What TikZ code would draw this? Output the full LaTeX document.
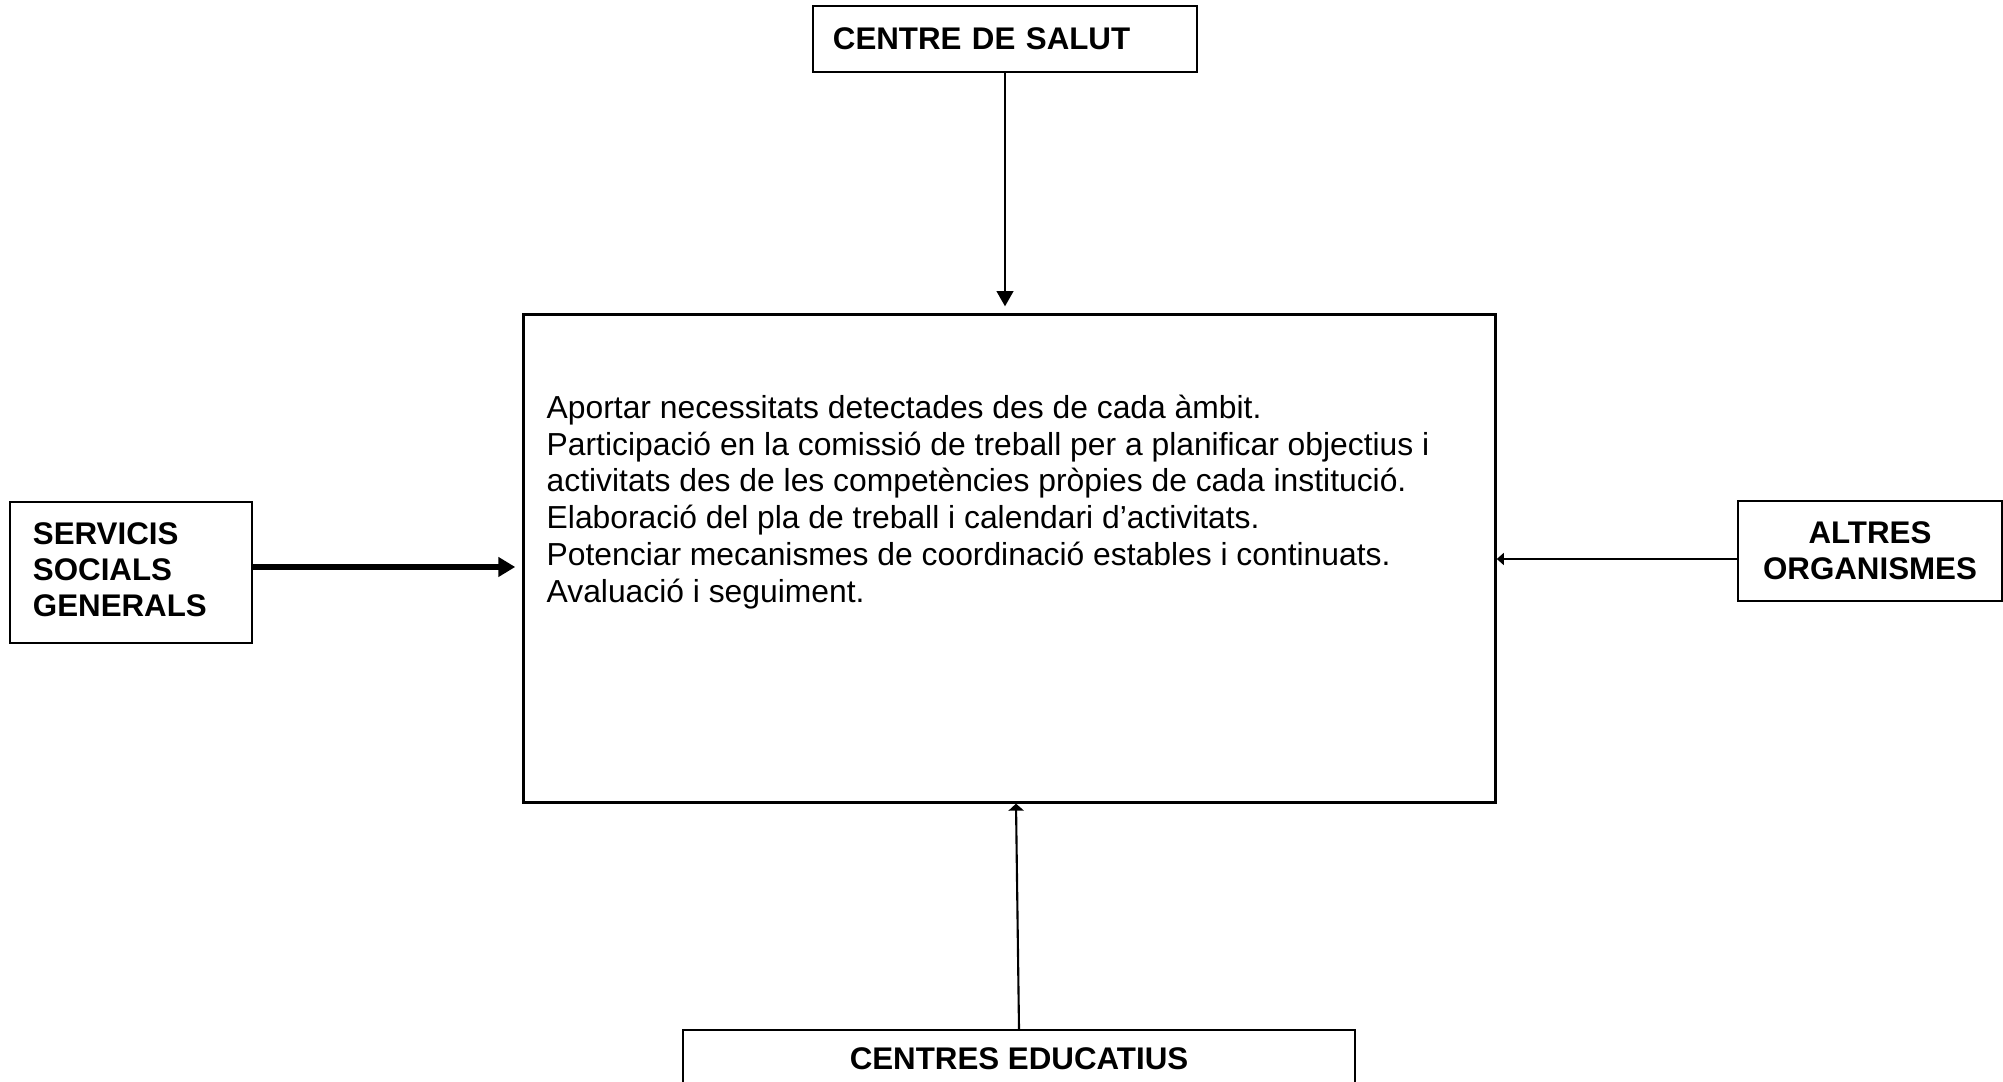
\documentclass[tikz,border=0pt]{standalone}
\usepackage{fontspec}
\setmainfont{Liberation Sans}
\usetikzlibrary{arrows.meta}

\begin{document}
\begin{tikzpicture}[x=0.01cm,y=0.01cm,
  ent/.style={draw,line width=0.6pt,inner sep=0pt,
    font=\fontsize{8.9}{10.3}\selectfont\bfseries},
  fl/.style={line width=0.6pt}]

\useasboundingbox (0,0) rectangle (2003,1082);
\clip (0,0) rectangle (2003,1082);

% central box
\node[draw, line width=0.85pt, minimum width=9.71cm, minimum height=4.87cm]
  (plan) at (1009.5,523.5) {};
\node[anchor=north west, align=left, inner sep=0pt,
  font=\fontsize{9.05}{10.5}\selectfont] (tasks) at (546,688)
{Aportar necessitats detectades des de cada àmbit.\\
Participació en la comissió de treball per a planificar objectius i\\
activitats des de les competències pròpies de cada institució.\\
Elaboració del pla de treball i calendari d’activitats.\\
Potenciar mecanismes de coordinació estables i continuats.\\
Avaluació i seguiment.};

% entities
\node[ent, minimum width=3.84cm, minimum height=0.66cm, text width=3.44cm,
  align=left] (salut) at (1005,1043) {CENTRE DE SALUT};
\node[ent, minimum width=2.42cm, minimum height=1.41cm, text width=1.96cm,
  align=left] (servicis) at (131,509.5) {SERVICIS\\SOCIALS\\GENERALS\vspace{0.06cm}};
\node[ent, minimum width=2.64cm, minimum height=1.00cm,
  align=center] (altres) at (1870,531) {ALTRES\\ORGANISMES};
\node[ent, minimum width=6.72cm, minimum height=0.58cm]
  (educ) at (1019,23) {CENTRES EDUCATIUS};

% arrows
\draw[fl, -{Triangle[length=4.3pt,width=4.7pt]}]
  (salut) -- ([yshift=0.07cm]salut |- plan.north);
\draw[fl, line width=1.5pt, -{Triangle[length=4.8pt,width=5.4pt]}]
  ([yshift=0.055cm]servicis.east) -- ([xshift=-0.07cm,yshift=0.055cm]servicis.east -| plan.west);
\draw[fl, -{Triangle[length=2pt,width=3.4pt]}]
  ([yshift=-0.08cm]altres.west) -- ([yshift=-0.08cm]altres.west -| plan.east);
\draw[fl, -{Triangle[length=2pt,width=4.3pt]}]
  (educ.north) -- ([xshift=0.065cm]plan.south);
\end{tikzpicture}
\end{document}
